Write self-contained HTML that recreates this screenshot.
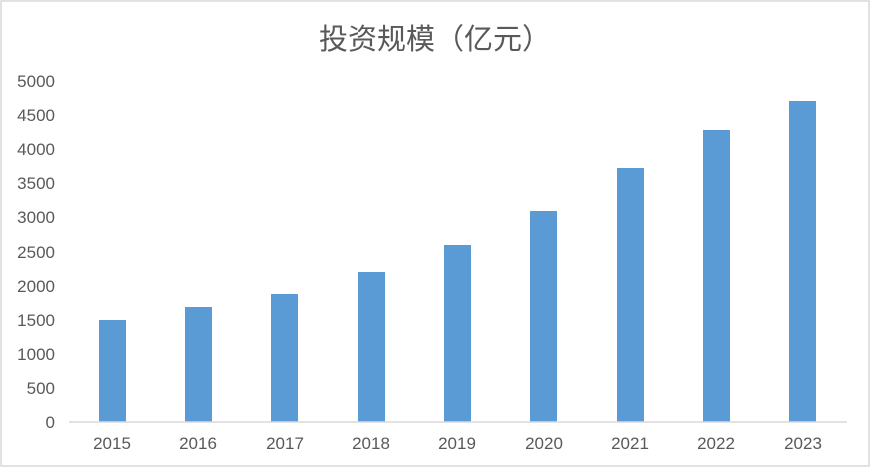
<!DOCTYPE html><html><head><meta charset="utf-8"><style>body{margin:0;background:#fff}</style></head><body>
<svg width="870" height="467" xmlns="http://www.w3.org/2000/svg" font-family="Liberation Sans, Noto Sans CJK SC, sans-serif">
<rect x="1" y="1" width="868" height="465" fill="#fff" stroke="#d9d9d9" stroke-width="1.5"/>
<text x="435" y="49" text-anchor="middle" font-size="29" fill="#595959" font-family="Liberation Sans, Noto Sans CJK SC, sans-serif">投资规模（亿元）</text>
<g font-size="17" fill="#595959" text-anchor="end">
<text x="55" y="428">0</text><text x="55" y="394">500</text><text x="55" y="360">1000</text><text x="55" y="326">1500</text><text x="55" y="292">2000</text><text x="55" y="258">2500</text><text x="55" y="223">3000</text><text x="55" y="189">3500</text><text x="55" y="155">4000</text><text x="55" y="121">4500</text><text x="55" y="87">5000</text>
</g>
<g fill="#5b9bd5">
<rect x="99" y="320" width="27" height="102"/>
<rect x="185" y="307" width="27" height="115"/>
<rect x="271" y="294" width="27" height="128"/>
<rect x="358" y="272" width="27" height="150"/>
<rect x="444" y="245" width="27" height="177"/>
<rect x="530" y="211" width="27" height="211"/>
<rect x="617" y="168" width="27" height="254"/>
<rect x="703" y="130" width="27" height="292"/>
<rect x="789" y="101" width="27" height="321"/>
</g>
<line x1="69" y1="422" x2="847" y2="422" stroke="#d9d9d9" stroke-width="1.5"/>
<g font-size="17" fill="#595959" text-anchor="middle">
<text x="112" y="449">2015</text><text x="198" y="449">2016</text><text x="285" y="449">2017</text><text x="371" y="449">2018</text><text x="457" y="449">2019</text><text x="544" y="449">2020</text><text x="630" y="449">2021</text><text x="716" y="449">2022</text><text x="803" y="449">2023</text>
</g>
</svg></body></html>
